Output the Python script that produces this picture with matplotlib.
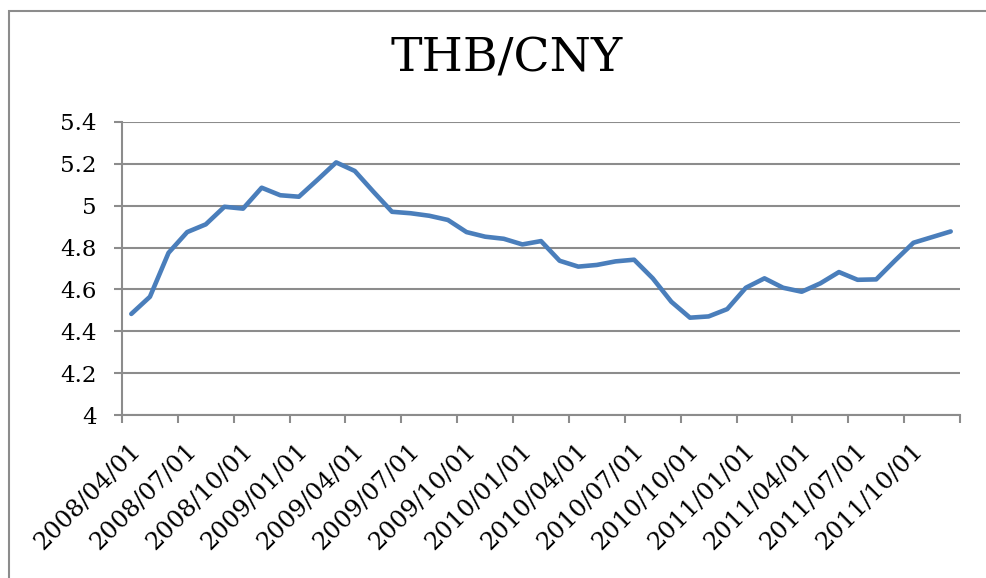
import matplotlib
matplotlib.use("Agg")
import matplotlib.pyplot as plt
import matplotlib.transforms as mtransforms
from matplotlib.patches import Rectangle
import numpy as np

# monthly THB/CNY, 2008/04 .. 2011/12
months = ["2008/%02d" % m for m in range(4, 13)] + \
         ["2009/%02d" % m for m in range(1, 13)] + \
         ["2010/%02d" % m for m in range(1, 13)] + \
         ["2011/%02d" % m for m in range(1, 13)]
rates = [4.483, 4.565, 4.775, 4.874, 4.911, 4.995, 4.986, 5.086, 5.050, 5.043,
         5.124, 5.207, 5.166, 5.067, 4.971, 4.964, 4.952, 4.932, 4.874, 4.852,
         4.842, 4.815, 4.831, 4.737, 4.709, 4.717, 4.734, 4.742, 4.653, 4.541,
         4.465, 4.471, 4.506, 4.608, 4.653, 4.608, 4.589, 4.629, 4.683, 4.646,
         4.648, 4.737, 4.823, 4.850, 4.877]
tick_labels = ["2008/04/01", "2008/07/01", "2008/10/01", "2009/01/01", "2009/04/01",
               "2009/07/01", "2009/10/01", "2010/01/01", "2010/04/01", "2010/07/01",
               "2010/10/01", "2011/01/01", "2011/04/01", "2011/07/01", "2011/10/01", ""]
yticks = [4, 4.2, 4.4, 4.6, 4.8, 5, 5.2, 5.4]
ylabels = ["4", "4.2", "4.4", "4.6", "4.8", "5", "5.2", "5.4"]

W, H = 987, 578
fig = plt.figure(figsize=(W / 100, H / 100), dpi=100)
plt.rcParams['font.family'] = ['DejaVu Serif']

# outer chart border (cut off at right/bottom like the screenshot)
fig.patches.append(Rectangle((9 / W, -0.1), 1.2, 1 - 11 / H + 0.1, transform=fig.transFigure,
                             fill=False, edgecolor='#8c8c8c', linewidth=1.5))

ax = fig.add_axes([122 / W, 1 - 415 / H, (960 - 122) / W, (415 - 122) / H])
x = np.arange(len(rates))
ax.plot(x, rates, color='#4a7ebb', linewidth=3.3, solid_capstyle='round', solid_joinstyle='round')

ax.set_xlim(-0.5, len(rates) - 0.5)
ax.set_ylim(4, 5.4)
ax.set_yticks(yticks)
ax.set_yticklabels(ylabels, fontsize=16.5)
ax.set_xticks(np.arange(-0.5, len(rates), 3))
ax.set_xticklabels(tick_labels, fontsize=17.5, rotation=45, ha='right', rotation_mode='anchor')

ax.grid(axis='y', color='#8c8c8c', linewidth=1.5)
ax.set_axisbelow(True)
for s in ['top', 'right']:
    ax.spines[s].set_visible(False)
for s in ['left', 'bottom']:
    ax.spines[s].set_color('#8c8c8c')
    ax.spines[s].set_linewidth(1.5)
ax.tick_params(axis='both', color='#8c8c8c', width=1.5, length=6)
ax.tick_params(axis='y', pad=12)

# shift the rotated date labels down/right like Excel does
off = mtransforms.ScaledTranslation(7 / 100, -11 / 100, fig.dpi_scale_trans)
for lab in ax.get_xticklabels():
    lab.set_transform(lab.get_transform() + off)

fig.text(507 / W, 1 - 59 / H, "THB/CNY", fontsize=34, ha='center', va='center')

fig.savefig("out.png", dpi=100)
